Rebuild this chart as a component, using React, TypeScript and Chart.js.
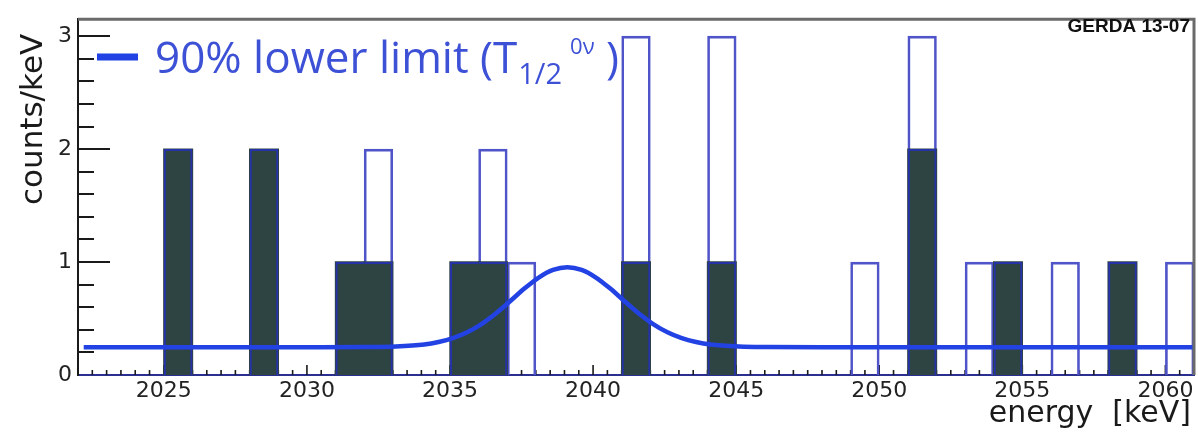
import React, { useEffect, useRef } from 'react';
import { Chart, registerables } from 'chart.js';

Chart.register(...registerables);

// ---- axis ranges & tick labels ----
const X_MIN = 2022;
const X_MAX = 2061;
const Y_MIN = 0;
const Y_MAX = 3.15;
const X_TICKS = [2025, 2030, 2035, 2040, 2045, 2050, 2055, 2060];
const Y_TICKS = [0, 1, 2, 3];
const BIN_WIDTH = 1;

// ---- all events (open histogram): bin lower edge [keV] and counts/keV ----
const ALL_BINS = [2025, 2028, 2031, 2032, 2035, 2036, 2037, 2041, 2044, 2049, 2051, 2053, 2054, 2056, 2058, 2060];
const ALL_COUNTS = [2, 2, 1, 2, 1, 2, 1, 3, 3, 1, 3, 1, 1, 1, 1, 1];

// ---- subset (filled dark histogram) ----
const SUB_BINS = [2025, 2028, 2031, 2032, 2035, 2036, 2041, 2044, 2051, 2054, 2058];
const SUB_COUNTS = [2, 2, 1, 1, 1, 1, 1, 1, 2, 1, 1];

// ---- 90% lower limit curve ----
const CURVE_X = [2022.2, 2030.0, 2032.1, 2033.1, 2034.1, 2034.6, 2035.1, 2035.6, 2036.1, 2036.6, 2037.1, 2037.6, 2038.1, 2038.6, 2039.1, 2039.6, 2040.1, 2040.6, 2041.1, 2041.6, 2042.1, 2042.6, 2043.1, 2043.6, 2044.1, 2045.1, 2046.1, 2048.0, 2061.0];
const CURVE_Y = [0.245, 0.245, 0.247, 0.252, 0.270, 0.292, 0.326, 0.378, 0.451, 0.545, 0.653, 0.765, 0.863, 0.931, 0.955, 0.931, 0.863, 0.765, 0.653, 0.545, 0.451, 0.378, 0.326, 0.292, 0.270, 0.252, 0.247, 0.245, 0.245];

const LEGEND_MAIN = '90% lower limit (T';
const LEGEND_SUB = '1/2';
const LEGEND_SUP = '0ν';
const LEGEND_END = ' )';
const TAG = 'GERDA 13-07';
const X_TITLE = 'energy  [keV]';
const Y_TITLE = 'counts/keV';

const CURVE_COLOR = '#2342e4';
const DARK_FILL = '#2e4442';
const DARK_EDGE = '#2633a6';
const OPEN_EDGE = '#4f54c8';
const LEGEND_COLOR = '#3d51d6';

function subCountAt(bin: number) {
  const j = SUB_BINS.indexOf(bin);
  return j >= 0 ? SUB_COUNTS[j] : 0;
}

function sameHeightNeighbour(i: number, dir: number) {
  const j = SUB_BINS.indexOf(SUB_BINS[i] + dir * BIN_WIDTH);
  return j >= 0 && SUB_COUNTS[j] === SUB_COUNTS[i];
}

const subData = () => SUB_BINS.map((b, i) => ({ x: b + BIN_WIDTH / 2, y: SUB_COUNTS[i] }));

const barCommon = {
  type: 'bar',
  grouped: false,
  barPercentage: 1,
  categoryPercentage: 1,
};

const decor = {
  id: 'decor',
  beforeDatasetsDraw(chart: any) {
    const { ctx, chartArea: a, scales } = chart;
    const xs = scales.x;
    const ys = scales.y;
    ctx.save();
    ctx.strokeStyle = '#1a1a1a';
    ctx.lineWidth = 2;
    for (let i = 1; i * 0.2 <= Y_MAX + 1e-9; i++) {
      const v = i / 5;
      const py = Math.round(ys.getPixelForValue(v));
      const len = i % 5 === 0 ? 32 : 16;
      ctx.beginPath();
      ctx.moveTo(a.left, py);
      ctx.lineTo(a.left + len, py);
      ctx.stroke();
    }
    ctx.lineWidth = 1.6;
    for (let k = Math.ceil(X_MIN * 2); k <= X_MAX * 2; k++) {
      const v = k / 2;
      const px = xs.getPixelForValue(v);
      const len = v % 5 === 0 ? 10 : 5;
      ctx.beginPath();
      ctx.moveTo(px, a.bottom);
      ctx.lineTo(px, a.bottom - len);
      ctx.stroke();
    }
    ctx.restore();
  },
  afterDraw(chart: any) {
    const { ctx, chartArea: a } = chart;
    ctx.save();
    ctx.strokeStyle = '#6a6a6a';
    ctx.lineWidth = 3;
    ctx.beginPath();
    ctx.moveTo(a.left, a.top);
    ctx.lineTo(a.right, a.top);
    ctx.lineTo(a.right, a.bottom);
    ctx.stroke();

    // legend sample
    ctx.strokeStyle = CURVE_COLOR;
    ctx.lineWidth = 7;
    ctx.beginPath();
    ctx.moveTo(97, 57);
    ctx.lineTo(138, 57);
    ctx.stroke();

    // legend text with sub/superscript
    ctx.fillStyle = LEGEND_COLOR;
    ctx.textAlign = 'left';
    ctx.textBaseline = 'alphabetic';
    let tx = 155;
    const by = 73;
    ctx.font = '44px "Open Sans"';
    ctx.fillText(LEGEND_MAIN, tx, by);
    tx += ctx.measureText(LEGEND_MAIN).width + 1;
    ctx.font = '29px "Open Sans"';
    ctx.fillText(LEGEND_SUB, tx, by + 11);
    tx += ctx.measureText(LEGEND_SUB).width + 8;
    ctx.font = '22px "Open Sans"';
    ctx.fillText(LEGEND_SUP, tx, by - 19);
    tx += ctx.measureText(LEGEND_SUP).width;
    ctx.font = '44px "Open Sans"';
    ctx.fillText(LEGEND_END, tx, by);

    // tag
    ctx.fillStyle = '#111';
    ctx.textAlign = 'right';
    ctx.font = 'bold 19px "Liberation Sans"';
    ctx.fillText(TAG, a.right - 4, 32);

    // axis titles
    ctx.fillStyle = '#1a1a1a';
    ctx.font = '30px "DejaVu Sans"';
    ctx.textAlign = 'right';
    ctx.fillText(X_TITLE, a.right - 3, 422);

    ctx.translate(42, 205);
    ctx.rotate(-Math.PI / 2);
    ctx.textAlign = 'left';
    ctx.font = '31px "DejaVu Sans"';
    ctx.fillText(Y_TITLE, 0, 0);
    ctx.restore();
  },
};

export default function App() {
  const ref = useRef<HTMLCanvasElement>(null);
  useEffect(() => {
    if (!ref.current) return;
    const chart = new Chart(ref.current, {
      type: 'bar',
      data: {
        datasets: [
          {
            type: 'line',
            label: '90% lower limit',
            data: CURVE_X.map((x, i) => ({ x, y: CURVE_Y[i] })),
            borderColor: CURVE_COLOR,
            borderWidth: 4.5,
            pointRadius: 0,
            cubicInterpolationMode: 'monotone',
            fill: false,
            order: 0,
          } as any,
          {
            ...barCommon,
            label: 'subset outline',
            data: subData(),
            backgroundColor: 'rgba(0,0,0,0)',
            borderColor: DARK_EDGE,
            borderWidth: (c: any) => {
              if (c.dataIndex === undefined) return 2;
              const i = c.dataIndex;
              return {
                top: 2,
                bottom: 0,
                left: sameHeightNeighbour(i, -1) ? 0 : 2,
                right: sameHeightNeighbour(i, 1) ? 0 : 2,
              };
            },
            borderSkipped: false,
            inflateAmount: 0,
            order: 1,
          } as any,
          {
            ...barCommon,
            label: 'subset',
            data: subData(),
            backgroundColor: DARK_FILL,
            borderWidth: 0,
            inflateAmount: 0.7,
            order: 2,
          } as any,
          {
            ...barCommon,
            label: 'all',
            // open part of each bin: from the subset count up to the total count
            data: ALL_BINS.map((b, i) => ({ x: b + BIN_WIDTH / 2, y: [subCountAt(b), ALL_COUNTS[i]] })),
            backgroundColor: 'rgba(255,255,255,0)',
            borderColor: OPEN_EDGE,
            borderWidth: 2,
            borderSkipped: 'start',
            order: 3,
          } as any,
        ],
      },
      options: {
        animation: false,
        responsive: true,
        maintainAspectRatio: false,
        layout: { padding: { top: 13, right: 4, left: 0, bottom: 0 } },
        plugins: { legend: { display: false }, tooltip: { enabled: false } },
        scales: {
          x: {
            type: 'linear',
            min: X_MIN,
            max: X_MAX,
            offset: false,
            grid: { display: false, drawTicks: false },
            border: { display: true, color: '#2b2f8f', width: 2 },
            afterBuildTicks: (s: any) => { s.ticks = X_TICKS.map((v) => ({ value: v })); },
            afterFit: (s: any) => { s.height = 60; },
            ticks: {
              callback: (v: any) => String(v),
              font: { family: 'DejaVu Sans', size: 22 },
              color: '#222',
              padding: 3,
              maxRotation: 0,
              autoSkip: false,
            },
          },
          y: {
            type: 'linear',
            min: Y_MIN,
            max: Y_MAX,
            grid: { display: false, drawTicks: false },
            border: { display: true, color: '#1a1a1a', width: 2 },
            afterBuildTicks: (s: any) => { s.ticks = Y_TICKS.map((v) => ({ value: v })); },
            afterFit: (s: any) => { s.width = 78; },
            ticks: {
              callback: (v: any) => String(v),
              font: { family: 'DejaVu Sans', size: 22 },
              color: '#222',
              padding: 6,
            },
          },
        },
      } as any,
      plugins: [decor],
    });
    return () => chart.destroy();
  }, []);
  return (
    <div style={{ position: 'fixed', left: 0, top: 0, width: 1198, height: 435, background: '#fff' }}>
      <canvas ref={ref} />
    </div>
  );
}
